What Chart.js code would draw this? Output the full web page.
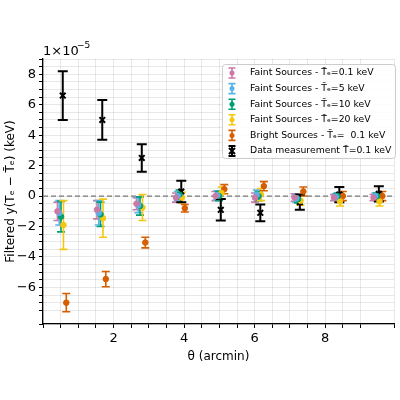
<!DOCTYPE html>
<html><head><meta charset="utf-8">
<script src="https://cdn.jsdelivr.net/npm/chart.js@4"></script>
<style>html,body{margin:0;padding:0;background:#fff}#w{width:400px;height:400px}</style>
</head><body><div id="w"><canvas id="c"></canvas></div>
<script>
const thetaData=[0.56,1.68,2.8,3.92,5.04,6.16,7.28,8.4,9.52];
const thetaPink=[0.41,1.53,2.65,3.77,4.89,6.01,7.13,8.25,9.37];
const thetaBlue=[0.46,1.58,2.7,3.82,4.94,6.06,7.18,8.3,9.42];
const thetaGreen=[0.51,1.63,2.75,3.87,4.99,6.11,7.23,8.35,9.47];
const thetaYellow=[0.58,1.7,2.82,3.94,5.06,6.18,7.3,8.42,9.54];
const thetaOrange=[0.66,1.78,2.9,4.02,5.14,6.26,7.38,8.5,9.62];
const pinkY=[-1.0,-0.9,-0.5,-0.1,0.0,-0.1,-0.1,-0.1,-0.1];
const pinkE=[0.6,0.6,0.4,0.3,0.3,0.3,0.25,0.2,0.2];
const blueY=[-1.1,-1.1,-0.6,0.0,0.05,0.1,-0.15,-0.05,0.0];
const blueE=[0.8,0.8,0.5,0.3,0.3,0.3,0.25,0.2,0.2];
const greenY=[-1.35,-1.2,-0.65,0.1,0.0,0.0,-0.2,0.0,0.0];
const greenE=[1.0,0.8,0.6,0.3,0.3,0.3,0.25,0.2,0.2];
const yellowY=[-1.9,-1.45,-0.75,-0.1,0.2,0.1,-0.3,-0.35,-0.35];
const yellowE=[1.6,1.25,0.85,0.35,0.4,0.4,0.3,0.3,0.3];
const orangeY=[-7.0,-5.45,-3.05,-0.8,0.45,0.65,0.3,0.0,0.0];
const orangeE=[0.6,0.5,0.35,0.25,0.3,0.3,0.3,0.3,0.3];
const dataY=[6.6,5.0,2.5,0.3,-0.9,-1.1,-0.4,0.1,0.15];
const dataE=[1.6,1.3,0.9,0.7,0.7,0.55,0.5,0.5,0.5];
const labels=["Faint Sources - T̄ₑ=0.1 keV","Faint Sources - T̄ₑ=5 keV","Faint Sources - T̄ₑ=10 keV","Faint Sources - T̄ₑ=20 keV","Bright Sources - T̄ₑ=  0.1 keV","Data measurement T̄=0.1 keV"];
const colors=["#CC79A7","#56B4E9","#009E73","#F5C710","#D55E00","#000000"];
const series=[[thetaPink,pinkY,pinkE],[thetaBlue,blueY,blueE],[thetaGreen,greenY,greenE],[thetaYellow,yellowY,yellowE],[thetaOrange,orangeY,orangeE],[thetaData,dataY,dataE]];
const datasets=series.map((s,i)=>({label:labels[i],data:s[0].map((x,j)=>({x:x,y:s[1][j],e:s[2][j]})),
  backgroundColor:colors[i],borderColor:colors[i],pointStyle:i===5?'crossRot':'circle',pointRadius:i===5?4:2.8,borderWidth:i===5?2:1,showLine:false}));
function drawBar(ctx,x,y1,y2,col,lw,cap){ctx.strokeStyle=col;ctx.lineWidth=lw;ctx.beginPath();ctx.moveTo(x,y1);ctx.lineTo(x,y2);ctx.moveTo(x-cap,y1);ctx.lineTo(x+cap,y1);ctx.moveTo(x-cap,y2);ctx.lineTo(x+cap,y2);ctx.stroke();}
const isMaj=v=>Math.abs(v-Math.round(v/2)*2)<1e-6;
const errPlugin={id:'err',
 beforeDatasetsDraw(ch){const c=ch.ctx,xs=ch.scales.x,ys=ch.scales.y,a=ch.chartArea;
  c.save();c.setLineDash([5,3]);c.strokeStyle='#777';c.lineWidth=1.2;const y0=ys.getPixelForValue(0);c.beginPath();c.moveTo(a.left,y0);c.lineTo(a.right,y0);c.stroke();c.setLineDash([]);
  ch.data.datasets.forEach((d,i)=>{d.data.forEach(p=>{const px=xs.getPixelForValue(p.x);drawBar(c,px,ys.getPixelForValue(p.y+p.e),ys.getPixelForValue(p.y-p.e),d.borderColor,i===5?2:1.6,i===5?5:4);});});
  c.restore();},
 afterDraw(ch){const c=ch.ctx;c.save();
  c.fillStyle='rgba(255,255,255,0.85)';c.strokeStyle='#ccc';c.lineWidth=1;
  c.beginPath();c.roundRect(222.5,64.5,173,94,3);c.fill();c.stroke();
  c.font='9.3px "DejaVu Sans"';c.textBaseline='middle';
  labels.forEach((l,i)=>{const y=73+i*15.6;const x=232;drawBar(c,x,y-5,y+5,colors[i],i===5?2:1.6,3.5);
   c.fillStyle=colors[i];c.beginPath();if(i===5){c.strokeStyle=colors[i];c.lineWidth=2;c.moveTo(x-3,y-3);c.lineTo(x+3,y+3);c.moveTo(x+3,y-3);c.lineTo(x-3,y+3);c.stroke();}else{c.arc(x,y,2.5,0,7);c.fill();}
   c.fillStyle='#000';c.textAlign='left';c.fillText(l,250,y);});
  c.font='13px "DejaVu Sans"';c.textAlign='left';c.textBaseline='alphabetic';c.fillText('1×10',43,55);c.font='9px "DejaVu Sans"';c.fillText('−5',77,48);
  c.restore();}};
new Chart(document.getElementById('c'),{type:'scatter',data:{datasets},plugins:[errPlugin],
 options:{responsive:true,maintainAspectRatio:false,animation:false,layout:{padding:{top:59,right:2,left:0,bottom:32}},
  plugins:{legend:{display:false},tooltip:{enabled:false}},
  scales:{
   x:{type:'linear',min:0,max:9.95,afterFit(s){s.height=44;},border:{color:'#000',width:1.3},
     grid:{color:'rgba(0,0,0,0.09)',tickColor:'#000',tickLength:4},
     ticks:{stepSize:0.5,autoSkip:false,maxRotation:0,color:'#000',font:{size:13,family:'DejaVu Sans'},callback:v=>(isMaj(v)&&v>0.5)?String(Math.round(v)):''},
     title:{display:true,text:'θ (arcmin)',color:'#000',font:{size:12,family:'DejaVu Sans'},padding:{top:0}}},
   y:{type:'linear',min:-8.4,max:9.0,afterFit(s){s.width=43;},border:{color:'#000',width:1.3},
     grid:{color:'rgba(0,0,0,0.09)',tickColor:'#000',tickLength:4},
     ticks:{stepSize:0.5,autoSkip:false,color:'#000',font:{size:13,family:'DejaVu Sans'},callback:v=>{if(!isMaj(v))return '';const r=Math.round(v);return r<0?'−'+(-r):String(r);}},
     title:{display:true,text:'Filtered y(Tₑ − T̄ₑ) (keV)',color:'#000',font:{size:12,family:'DejaVu Sans'},padding:{bottom:0}}}}}});
</script></body></html>
